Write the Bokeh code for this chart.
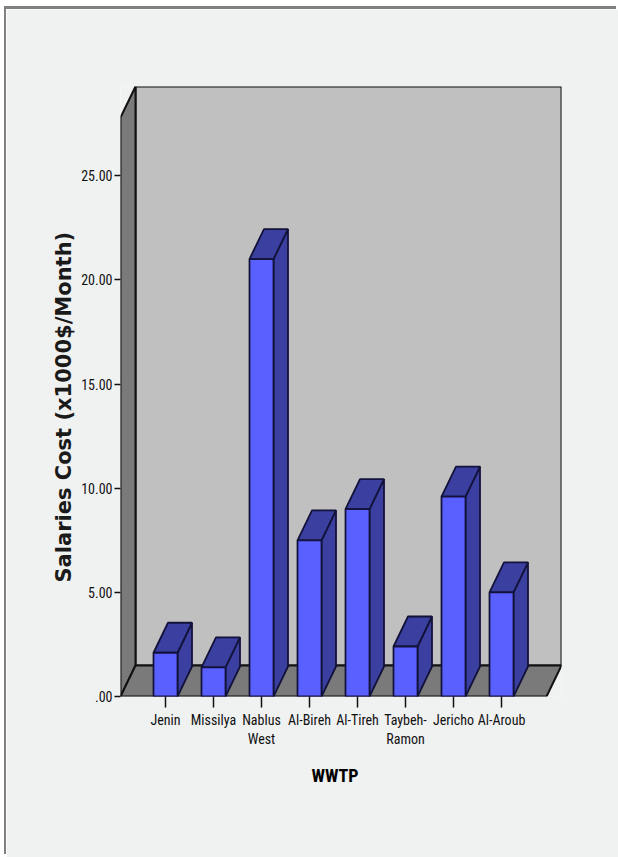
from bokeh.embed import file_html
from bokeh.resources import INLINE
from bokeh.models import ColumnDataSource, FixedTicker, Range1d, Title
from bokeh.plotting import figure

# Monthly salaries cost per wastewater treatment plant
plants = ["Jenin", "Missilya", "Nablus\nWest", "Al-Bireh", "Al-Tireh", "Taybeh-\nRamon", "Jericho", "Al-Aroub"]
salaries = [2.1, 1.4, 21.0, 7.5, 9.0, 2.4, 9.6, 5.0]
y_ticks = [0, 5, 10, 15, 20, 25]
y_tick_labels = [".00", "5.00", "10.00", "15.00", "20.00", "25.00"]

# Frame scales: one category is 48 px wide, one unit of cost is 20.83 px tall
FRAME_W, FRAME_H = 441, 610
PX_X, PX_Y = 48.0, 20.83
x0 = -45 / PX_X
x1 = x0 + FRAME_W / PX_X
y1 = FRAME_H / PX_Y

BAR_HALF = 12 / PX_X
BAR_DX, BAR_DY = 14.5 / PX_X, 30 / PX_Y
WALL_DX, WALL_DY = 15 / PX_X, 31 / PX_Y
FLOOR_RIGHT = x1 - WALL_DX

PAGE = "#f0f1f1"
WALL = "#c0c0c0"
SHADE = "#7a7a7a"
FRONT = "#5a5fff"
DARK = "#3a3fa0"
INK = "#111111"
NARROW = "Roboto Condensed"

p = figure(width=612, height=848, output_backend="svg", toolbar_location=None,
           x_range=Range1d(x0, x1), y_range=Range1d(0, y1),
           min_border_left=114, min_border_right=57, min_border_top=77, min_border_bottom=161)
p.margin = (9, 0, 0, 6)
# Thin grey page rule along the top and left edges; the page colour runs off the right and bottom
p.styles = {"box-shadow": f"-2px -3px 0 #808080, 6px 6px 0 {PAGE}"}
p.background_fill_color = PAGE
p.border_fill_color = PAGE
p.outline_line_color = None
p.grid.visible = False

# Box walls and floor
p.patch([x0 + WALL_DX, x1, x1, x0 + WALL_DX], [WALL_DY, WALL_DY, y1, y1],
        fill_color=WALL, line_color=INK, line_width=2)
p.patch([x0, x0 + WALL_DX, x0 + WALL_DX, x0], [0, WALL_DY, y1, y1 - WALL_DY],
        fill_color=SHADE, line_color=INK, line_width=2)
p.patch([x0, FLOOR_RIGHT, x1, x0 + WALL_DX], [0, 0, WALL_DY, WALL_DY],
        fill_color=SHADE, line_color=INK, line_width=2)

# Bars as three faces: front, right side and top
xs = list(range(len(plants)))
fronts = ColumnDataSource(dict(
    xs=[[x - BAR_HALF, x + BAR_HALF, x + BAR_HALF, x - BAR_HALF] for x in xs],
    ys=[[0, 0, v, v] for v in salaries]))
sides = ColumnDataSource(dict(
    xs=[[x + BAR_HALF, x + BAR_HALF + BAR_DX, x + BAR_HALF + BAR_DX, x + BAR_HALF] for x in xs],
    ys=[[0, BAR_DY, v + BAR_DY, v] for v in salaries]))
tops = ColumnDataSource(dict(
    xs=[[x - BAR_HALF, x + BAR_HALF, x + BAR_HALF + BAR_DX, x - BAR_HALF + BAR_DX] for x in xs],
    ys=[[v, v, v + BAR_DY, v + BAR_DY] for v in salaries]))
for src, color in ((sides, DARK), (tops, DARK), (fronts, FRONT)):
    p.patches("xs", "ys", source=src, fill_color=color, line_color="#12123a", line_width=1.8)

# Axes
p.xaxis.ticker = FixedTicker(ticks=xs)
p.xaxis.major_label_overrides = dict(zip(xs, plants))
p.yaxis.ticker = FixedTicker(ticks=y_ticks)
p.yaxis.major_label_overrides = dict(zip(y_ticks, y_tick_labels))
for ax in (p.xaxis[0], p.yaxis[0]):
    ax.axis_line_color = None
    ax.minor_tick_line_color = None
    ax.major_tick_in = 0
    ax.major_tick_line_color = INK
    ax.major_tick_line_width = 1.5
    ax.major_label_text_font = NARROW
    ax.major_label_text_font_size = "14px"
    ax.major_label_text_color = INK
p.xaxis.major_tick_out = 11
p.xaxis.major_label_standoff = 4
p.yaxis.major_tick_out = 6
p.yaxis.major_label_standoff = 2

# Axis titles, offset along the frame edge they sit on
p.add_layout(Title(text="WWTP", align="left", offset=191, standoff=26,
                   text_font=NARROW, text_font_style="bold", text_font_size="18px",
                   text_color="#000000"), "below")
p.add_layout(Title(text="Salaries Cost (x1000$/Month)", align="left", offset=114, standoff=5,
                   text_font="DejaVu Sans", text_font_style="bold", text_font_size="21px",
                   text_color="#1a1a1a"), "left")

open("out.html", "w").write(file_html(p, INLINE))
